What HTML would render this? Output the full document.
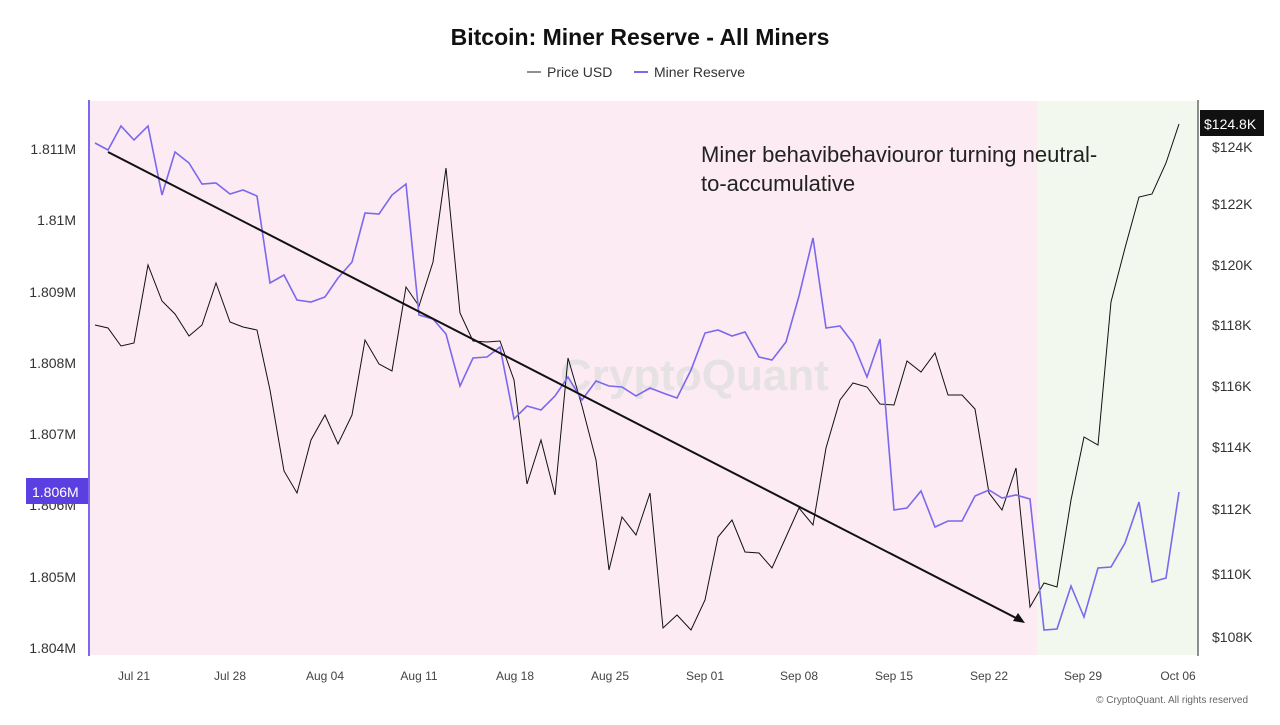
<!DOCTYPE html>
<html><head><meta charset="utf-8"><style>
body{margin:0;width:1280px;height:720px;background:#fff;font-family:"Liberation Sans",sans-serif;overflow:hidden}
</style></head><body>
<svg width="1280" height="720" xmlns="http://www.w3.org/2000/svg" font-family="Liberation Sans, sans-serif">
<text x="640" y="45" text-anchor="middle" font-size="23" font-weight="bold" fill="#111">Bitcoin: Miner Reserve - All Miners</text>
<line x1="527" y1="72" x2="541" y2="72" stroke="#222"/><text x="547" y="77" font-size="14" fill="#333">Price USD</text>
<line x1="634" y1="72" x2="648" y2="72" stroke="#7b68ee" stroke-width="2"/><text x="654" y="77" font-size="14" fill="#333">Miner Reserve</text>
<rect x="89" y="101" width="948" height="554" fill="#fcebf2"/>
<rect x="1037" y="101" width="161" height="554" fill="#f2f8ee"/>
<line x1="89" y1="100" x2="89" y2="656" stroke="#7b68ee" stroke-width="2"/>
<line x1="1198" y1="100" x2="1198" y2="656" stroke="#222"/>
<text x="560" y="390" font-size="44" fill="#ddd" opacity="0.7" font-weight="bold">CryptoQuant</text>
<g font-size="14" fill="#333" text-anchor="end">
<text x="76" y="154">1.811M</text><text x="76" y="225">1.81M</text><text x="76" y="297">1.809M</text><text x="76" y="368">1.808M</text><text x="76" y="439">1.807M</text><text x="76" y="510">1.806M</text><text x="76" y="582">1.805M</text><text x="76" y="653">1.804M</text>
</g>
<rect x="26" y="478" width="62" height="26" fill="#5b3fe0"/><text x="32" y="497" font-size="14" fill="#fff">1.806M</text>
<g font-size="14" fill="#333">
<text x="1212" y="152">$124K</text><text x="1212" y="209">$122K</text><text x="1212" y="270">$120K</text><text x="1212" y="330">$118K</text><text x="1212" y="391">$116K</text><text x="1212" y="452">$114K</text><text x="1212" y="514">$112K</text><text x="1212" y="579">$110K</text><text x="1212" y="642">$108K</text>
</g>
<rect x="1200" y="110" width="64" height="26" fill="#111"/><text x="1204" y="129" font-size="14" fill="#fff">$124.8K</text>
<g font-size="12" fill="#444" text-anchor="middle">
<text x="134" y="680">Jul 21</text><text x="230" y="680">Jul 28</text><text x="325" y="680">Aug 04</text><text x="419" y="680">Aug 11</text><text x="515" y="680">Aug 18</text><text x="610" y="680">Aug 25</text><text x="705" y="680">Sep 01</text><text x="799" y="680">Sep 08</text><text x="894" y="680">Sep 15</text><text x="989" y="680">Sep 22</text><text x="1083" y="680">Sep 29</text><text x="1178" y="680">Oct 06</text>
</g>
<text x="1248" y="703" font-size="10" fill="#666" text-anchor="end">© CryptoQuant. All rights reserved</text>
<polyline fill="none" stroke="#111" stroke-width="1" points="95,325 108,328 121,346 134,343 148,265 162,301 175,314 189,336 202,325 216,283 230,322 243,327 257,330 270,390 284,471 297,493 311,440 325,415 338,444 352,415 365,340 379,364 392,371 406,287 419,306 433,262 446,168 460,313 473,341 487,342 500,341 514,380 527,484 541,440 555,495 568,358 582,406 596,460 609,570 622,517 636,535 650,493 663,628 677,615 691,630 705,600 718,537 732,520 745,552 759,553 772,568 786,537 799,508 813,525 826,448 840,400 853,383 867,387 880,404 894,405 907,361 921,372 935,353 948,395 962,395 975,409 989,493 1002,510 1016,468 1030,607 1044,583 1057,587 1071,500 1084,437 1098,445 1111,302 1125,248 1139,197 1152,194 1166,163 1179,124"/>
<polyline fill="none" stroke="#7b68ee" stroke-width="1.6" points="95,143 108,150 121,126 134,140 148,126 162,195 175,152 189,163 202,184 216,183 230,194 243,190 257,196 270,283 284,275 297,300 311,302 325,297 338,278 352,262 365,213 379,214 392,195 406,184 419,315 433,319 446,334 460,386 473,358 487,357 500,347 514,419 527,406 541,410 555,396 568,377 582,400 596,381 609,386 622,387 636,396 650,388 663,393 677,398 691,370 705,333 718,330 732,336 745,332 759,357 772,360 786,342 799,296 813,238 826,328 840,326 853,343 867,377 880,339 894,510 907,508 921,491 935,527 948,521 962,521 975,496 989,490 1002,498 1016,495 1030,499 1044,630 1057,629 1071,586 1084,617 1098,568 1111,567 1125,543 1139,502 1152,582 1166,578 1179,492"/>
<line x1="108" y1="152" x2="1018" y2="619" stroke="#111" stroke-width="2"/>
<polygon points="1025,623 1013,621 1018,613" fill="#111"/>
<text x="701" y="162" font-size="22" fill="#222">Miner behavibehaviouror turning neutral-</text>
<text x="701" y="191" font-size="22" fill="#222">to-accumulative</text>
</svg>
</body></html>
